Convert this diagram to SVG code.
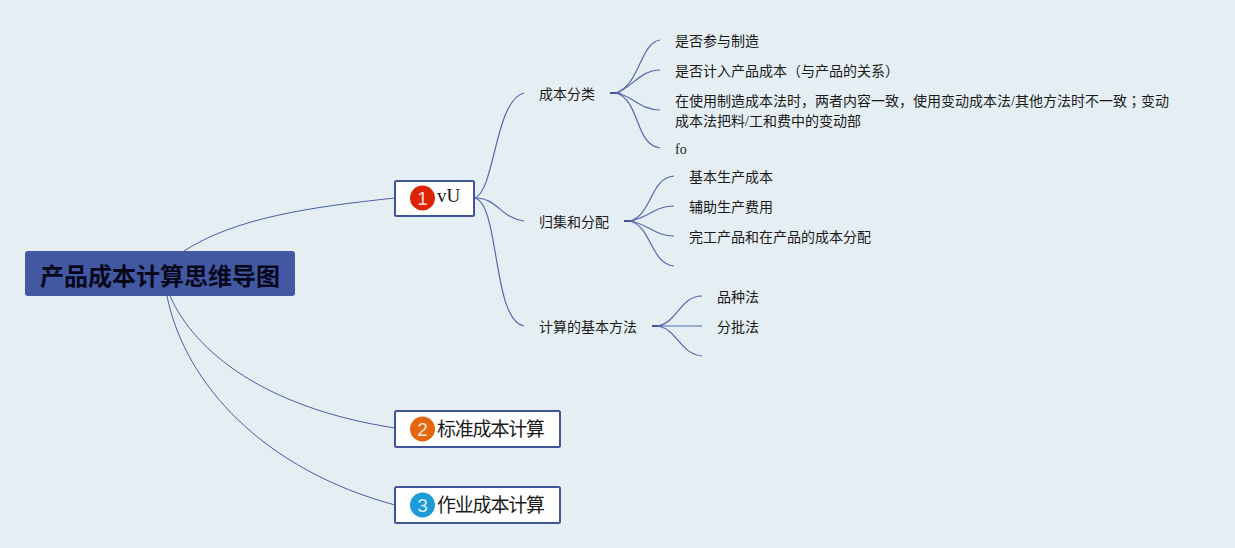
<svg xmlns="http://www.w3.org/2000/svg" width="1235" height="548" viewBox="0 0 1235 548">
<style>
.c{fill:none;stroke:#4a5ea6;stroke-width:1}
.l{fill:none;stroke:#5568ad;stroke-width:1.2}
.j{fill:#3f5499;stroke:none}
.t{font-family:"Liberation Serif","Noto Sans CJK SC",sans-serif;fill:#1a1a1a}
.s{font-size:14px}
.m{font-size:19px}
.b{fill:#fff;stroke:#3f5499;stroke-width:2}
.n{font-family:"Liberation Sans",sans-serif;font-size:19px;fill:#fff;fill-opacity:.85;text-anchor:middle}
</style>
<rect width="1235" height="548" fill="#e5eef3"/>
<g id="connectors">
<path class="c" d="M184 251C235 218 310 207 395 198"/>
<path class="c" d="M170 296C195 352 265 408 395 428"/>
<path class="c" d="M167 296C185 385 265 470 395 505"/>
<path class="l" d="M475 198C495 190 495 100 524 93"/>
<path class="l" d="M475 198C498 198 500 218 524 221"/>
<path class="l" d="M475 198C500 205 492 320 524 326"/>
<path class="j" d="M610 92H617L622 93L617 94H610Z"/>
<path class="l" d="M616 93C640 85 640 43 660 40"/>
<path class="l" d="M616 93C632 88 640 70 660 70"/>
<path class="l" d="M616 93C632 95 640 110 660 110"/>
<path class="l" d="M616 93C640 100 635 145 660 148"/>
<path class="j" d="M624 220H631L636 221L631 222H624Z"/>
<path class="l" d="M630 221C652 215 650 178 674 176"/>
<path class="l" d="M630 221C648 218 655 206 674 206"/>
<path class="l" d="M630 221C648 224 655 236 674 236"/>
<path class="l" d="M630 221C652 227 650 263 674 266"/>
<path class="j" d="M652 325H659L664 326L659 327H652Z"/>
<path class="l" d="M658 326C678 322 680 296 702 296"/>
<path class="l" d="M658 326H702"/>
<path class="l" d="M658 326C678 330 680 354 702 356"/>
</g>
<g id="root">
<rect x="25" y="251" width="270" height="45" rx="3" fill="#4258a3"/>
<text x="160" y="285" text-anchor="middle" font-family="'Noto Sans CJK SC',sans-serif" font-size="24" font-weight="700" fill="#06081a">产品成本计算思维导图</text>
</g>
<g id="n1">
<rect class="b" x="395" y="181" width="79" height="35" rx="1.5"/>
<circle cx="422.5" cy="198" r="12.5" fill="#dc2405"/>
<text class="n" x="422.5" y="205">1</text>
<text class="t m" x="437" y="202">vU</text>
</g>
<g id="n2">
<rect class="b" x="395" y="411" width="165" height="36" rx="1.5"/>
<circle cx="422.5" cy="429" r="12.5" fill="#e4660f"/>
<text class="n" x="422.5" y="436">2</text>
<text class="t m" x="437" y="436" textLength="108">标准成本计算</text>
</g>
<g id="n3">
<rect class="b" x="395" y="487" width="165" height="36" rx="1.5"/>
<circle cx="422.5" cy="505" r="12.5" fill="#1d9ad8"/>
<text class="n" x="422.5" y="512">3</text>
<text class="t m" x="437" y="512" textLength="108">作业成本计算</text>
</g>
<g id="a1"><text class="t s" x="539" y="99">成本分类</text></g>
<g id="a2"><text class="t s" x="539" y="227">归集和分配</text></g>
<g id="a3"><text class="t s" x="539" y="332">计算的基本方法</text></g>
<g id="l1"><text class="t s" x="675" y="46">是否参与制造</text></g>
<g id="l2"><text class="t s" x="675" y="76">是否计入产品成本（与产品的关系）</text></g>
<g id="l3"><text class="t s" x="675" y="106">在使用制造成本法时，两者内容一致，使用变动成本法/其他方法时不一致<tspan font-family="'Noto Sans CJK TC',sans-serif">；</tspan>变动</text><text class="t s" x="675" y="126">成本法把料/工和费中的变动部</text></g>
<g id="l4"><text class="t s" x="675" y="154">fo</text></g>
<g id="l5"><text class="t s" x="689" y="182">基本生产成本</text></g>
<g id="l6"><text class="t s" x="689" y="212">辅助生产费用</text></g>
<g id="l7"><text class="t s" x="689" y="242">完工产品和在产品的成本分配</text></g>
<g id="l8"><text class="t s" x="717" y="302">品种法</text></g>
<g id="l9"><text class="t s" x="717" y="332">分批法</text></g>
</svg>
